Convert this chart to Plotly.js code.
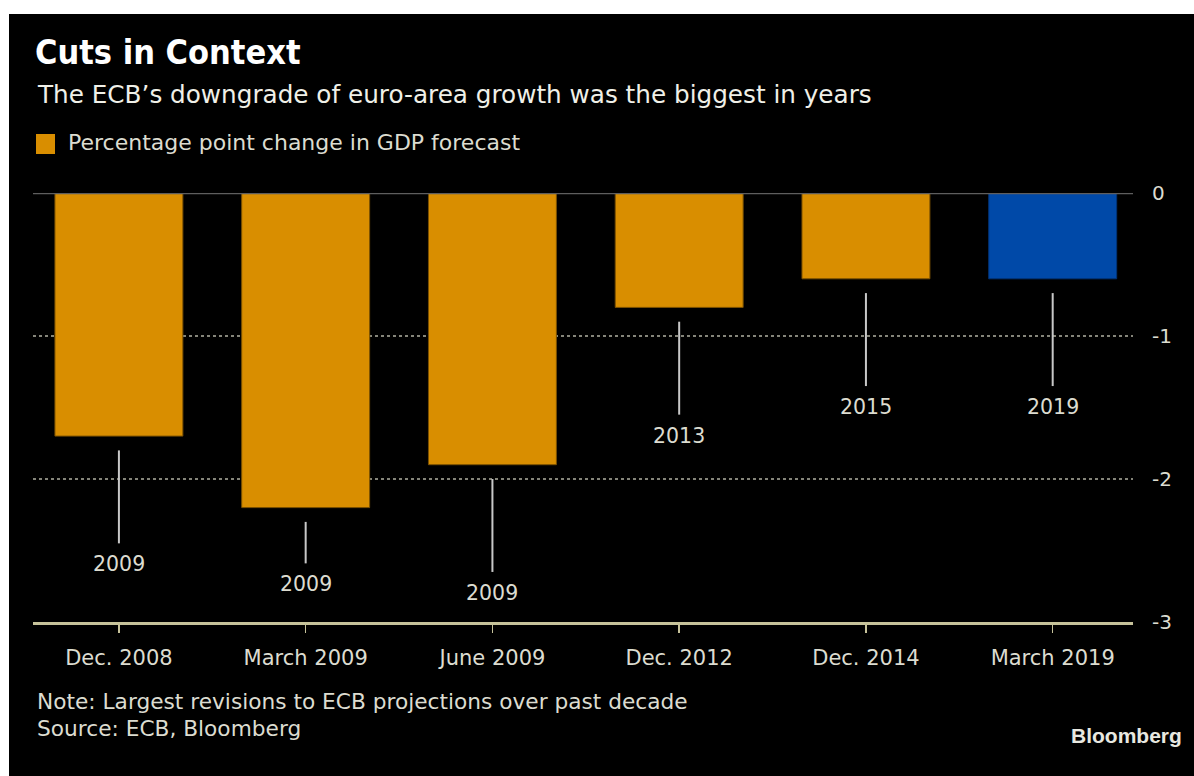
<!DOCTYPE html>
<html>
<head>
<meta charset="utf-8">
<script src="https://cdn.plot.ly/plotly-3.0.1.min.js"></script>
<style>
  html, body { margin: 0; padding: 0; background: #ffffff; width: 1194px; height: 776px; overflow: hidden; }
  #chart { position: absolute; left: 9px; top: 14px; width: 1185px; height: 762px; background: #000; }
</style>
</head>
<body>
<div id="chart"></div>
<script>
// ---- data ----
const meetings = ["Dec. 2008", "March 2009", "June 2009", "Dec. 2012", "Dec. 2014", "March 2019"];
const gdpChange = [-1.7, -2.2, -1.9, -0.8, -0.6, -0.6];
const forecastYear = ["2009", "2009", "2009", "2013", "2015", "2019"];
const yTicks = [0, -1, -2, -3];

// ---- styles ----
const orange = "#d98e00", blue = "#0049a8";
const highlight = 5;
const barColors = meetings.map((m, i) => i === highlight ? blue : orange);
const barLines = meetings.map((m, i) => i === highlight ? "#003377" : "#7a5000");
const leaderGap = 0.1;
const leaderLen = [0.65, 0.29, 0.65, 0.65, 0.65, 0.65];
const txt = "#dcdcd0";
const FONT = '"DejaVu Sans", sans-serif';
const FONTC = '"DejaVu Sans Condensed", "DejaVu Sans", sans-serif';

const W = 1185, H = 762;
const M = {l: 24, r: 61, t: 179, b: 154};
const pw = W - M.l - M.r, ph = H - M.t - M.b;
const px = x => (x - 9 - M.l) / pw;          // page x -> paper x
const py = y => 1 - (y - 14 - M.t) / ph;     // page y -> paper y

const shapes = [
  {type: "line", xref: "paper", yref: "y", x0: 0, x1: 1, y0: 0, y1: 0,
   line: {color: "#5e5e5e", width: 2.5}, layer: "above"},
  {type: "rect", xref: "paper", yref: "paper", x0: px(36), x1: px(55), y0: py(154), y1: py(134),
   fillcolor: orange, line: {width: 0}}
];
const annotations = [
  {xref: "paper", yref: "paper", x: px(33), y: py(52), xanchor: "left", yanchor: "middle",
   text: "<b>Cuts in Context</b>", showarrow: false, font: {family: FONTC, size: 34, color: "#ffffff"}},
  {xref: "paper", yref: "paper", x: px(35), y: py(95), xanchor: "left", yanchor: "middle",
   text: "The ECB’s downgrade of euro-area growth was the biggest in years", showarrow: false,
   font: {family: FONT, size: 24.7, color: "#f0f0e8"}},
  {xref: "paper", yref: "paper", x: px(66), y: py(143), xanchor: "left", yanchor: "middle",
   text: "Percentage point change in GDP forecast", showarrow: false,
   font: {family: FONT, size: 22, color: txt}},
  {xref: "paper", yref: "paper", x: px(35), y: py(701), xanchor: "left", yanchor: "middle",
   text: "Note: Largest revisions to ECB projections over past decade", showarrow: false,
   font: {family: FONT, size: 21.7, color: txt}},
  {xref: "paper", yref: "paper", x: px(35), y: py(728), xanchor: "left", yanchor: "middle",
   text: "Source: ECB, Bloomberg", showarrow: false,
   font: {family: FONT, size: 21.7, color: txt}},
  {xref: "paper", yref: "paper", x: px(1184), y: py(735), xanchor: "right", yanchor: "middle",
   text: "<b>Bloomberg</b>", showarrow: false,
   font: {family: '"Liberation Sans", Arial, sans-serif', size: 21, color: "#e8e8e0"}}
];

meetings.forEach((m, i) => {
  const top = gdpChange[i] - leaderGap;
  const bottom = top - leaderLen[i];
  shapes.push({type: "line", xref: "x", yref: "y", x0: m, x1: m, y0: top, y1: bottom,
    line: {color: "#c8c8c8", width: 2}, layer: "above"});
  annotations.push({xref: "x", yref: "y", x: m, y: bottom, yanchor: "top", yshift: -7,
    text: forecastYear[i], showarrow: false, font: {family: FONT, size: 20.5, color: txt}});
});

const trace = {
  type: "bar", x: meetings, y: gdpChange, width: 0.685,
  marker: {color: barColors, line: {color: barLines, width: 1}},
  showlegend: false, hoverinfo: "skip"
};

const layout = {
  width: W, height: H,
  margin: M,
  paper_bgcolor: "#000000", plot_bgcolor: "#000000",
  font: {family: FONT, color: txt},
  xaxis: {type: "category", range: [-0.46, 5.43], showgrid: false, zeroline: false,
    showline: true, linecolor: "#c6c29a", linewidth: 2.5,
    ticks: "outside", ticklen: 8, tickwidth: 1.5, tickcolor: "#c6c29a",
    ticklabelstandoff: 7,
    tickfont: {family: FONT, size: 21, color: txt}, fixedrange: true},
  yaxis: {range: [-3, 0], side: "right", tickvals: yTicks, ticktext: yTicks.map(String),
    showgrid: true, gridcolor: "#85857a", griddash: "dot", gridwidth: 1.5, zeroline: false,
    ticks: "outside", ticklen: 14, tickcolor: "rgba(0,0,0,0)",
    tickfont: {family: FONT, size: 20, color: txt}, fixedrange: true},
  shapes: shapes,
  annotations: annotations,
  bargap: 0.3
};

Plotly.newPlot("chart", [trace], layout, {displayModeBar: false, staticPlot: true});
</script>
</body>
</html>
